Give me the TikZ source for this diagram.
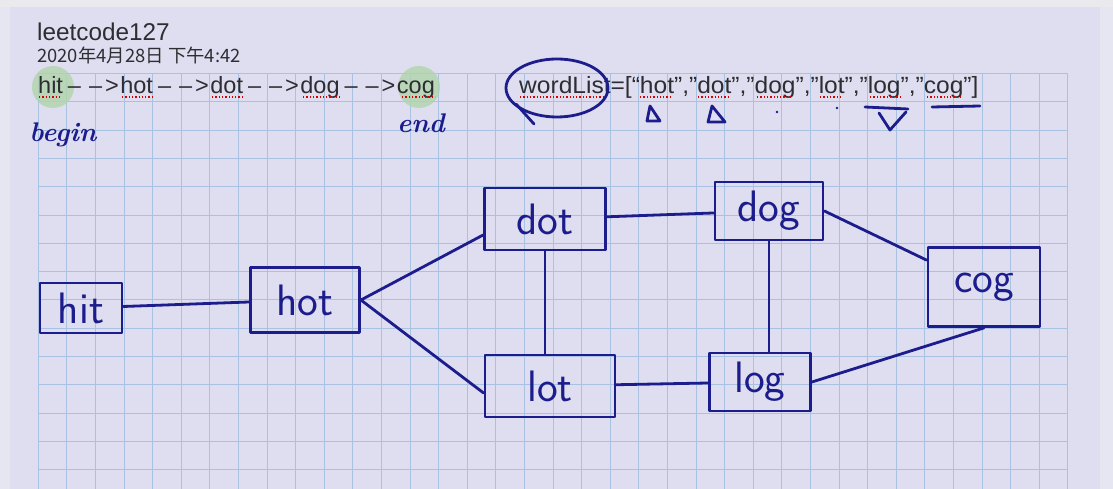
\documentclass[tikz,border=0pt]{standalone}
\usepackage{graphicx}
\usepackage{fontspec}
\newfontfamily\uifont{Liberation Sans}
\newfontfamily\cjk{Noto Sans CJK SC}
\usetikzlibrary{positioning}

\definecolor{paper}{RGB}{222,222,240}
\definecolor{margin}{RGB}{230,230,242}
\definecolor{topbar}{RGB}{234,234,238}
\definecolor{gridblue}{RGB}{170,194,226}
\definecolor{ink}{RGB}{28,28,140}
\definecolor{typedgray}{RGB}{45,45,50}
\definecolor{hilite}{RGB}{176,212,170}

% typed arrow between two words
\newcommand\nextword{\kern5pt–\kern8pt–\kern3pt>\kern1.5pt}

\begin{document}
\begin{tikzpicture}[x=1pt,y=-1pt,
  gridline/.style={draw=gridblue, line width=0.9pt},
  pen/.style={draw=ink, line width=2.8pt, line cap=round, line join=round},
  word/.style={pen, rectangle, inner sep=0pt, text=ink, font=\sffamily\fontsize{44}{44}\selectfont},
  hand/.style={inner sep=0pt, text=ink, font=\bfseries\itshape\fontsize{27}{27}\selectfont},
  typed/.style={anchor=west, inner sep=0pt, text=typedgray, font=\uifont\fontsize{23.5}{26}\selectfont},
  spell/.style={draw=red!85!black, line width=1.3pt, dotted},
]
\useasboundingbox (0,0) rectangle (1113,489);

% paper
\fill[paper] (0,0) rectangle (1113,489);
\fill[margin] (0,0) rectangle (10,489);
\fill[margin] (1100,0) rectangle (1113,489);
\fill[topbar] (0,0) rectangle (1113,7);

% grid
\foreach \i in {0,...,36}
  \draw[gridline] (38.3+28.6*\i,73.3) -- (38.3+28.6*\i,489);
\foreach \j in {0,...,14}
  \draw[gridline] (38.3,73.3+28.33*\j) -- (1068,73.3+28.33*\j);

% highlights
\fill[hilite, opacity=.8] (53,87) circle (21);
\fill[hilite, opacity=.8] (419,87) circle (21);

% header
\node[typed, font=\uifont\fontsize{24.3}{27}\selectfont] (title) at (37,32) {leetcode127};
\node[typed, font=\cjk\fontsize{18.4}{21}\selectfont] (date) at (37,55) {2020年4月28日 下午4:42};

% typed lines
\node[typed] (path) at (38,87) {hit\nextword hot\nextword dot\nextword dog\nextword cog};
\node[typed] (list) at (519,87) {\scalebox{1.045}[1]{wordList=[“hot”,”dot”,”dog”,”lot”,”log”,”cog”]}};

% spell check
\foreach \a/\b in {39/60, 122/152, 212/242, 303/340, 402/435,
                   520/603, 640/670, 698/730, 757/793, 820/843, 870/900, 927/962}
  \draw[spell] (\a,97) -- (\b,97);

% notes
\node[hand] (begin) at (63,135) {begin};
\node[hand] (end) at (421,123) {end};

\begin{scope}[pen]
\draw (557,88) ellipse (51 and 29);
\draw (516,104) -- (534,124);
% marks
\draw (647,121) -- (660,121) -- (650,106) -- cycle;
\draw (708,122) -- (725,122) -- (712,106) -- cycle;
\fill[ink] (777,112) circle (1.3);
\fill[ink] (837,108) circle (1.3);
\draw (865,107) -- (908,109);
\draw (879,113) -- (890,130) -- (906,112);
\draw (932,107) -- (980,106);
\end{scope}

% words
\node[word, minimum width=82, minimum height=50] (hit) at (81,308) {hit};
\node[word, minimum width=109, minimum height=65] (hot) at (305,300) {hot};
\node[word, minimum width=121, minimum height=62] (dot) at (545,219) {dot};
\node[word, minimum width=108, minimum height=58] (dog) at (769,211) {dog};
\node[word, minimum width=130, minimum height=62] (lot) at (550,386) {lot};
\node[word, minimum width=101, minimum height=58] (log) at (760,382) {log};
\node[word, minimum width=112, minimum height=79] (cog) at (984,287) {cog};

% edges
\draw[pen] (hit) -- (hot);
\draw[pen] (hot.east) -- ([yshift=-16pt]dot.west);
\draw[pen] (hot.east) -- ([yshift=-7pt]lot.west);
\draw[pen] (dot.south) -- (dot.south |- lot.north);
\draw[pen] (dot) -- (dog);
\draw[pen] (dog.south) -- (dog.south |- log.north);
\draw[pen] (lot) -- (log);
\draw[pen] (dog.east) -- ([yshift=-14pt]cog.north west);
\draw[pen] (log.east) -- (cog.south);

\end{tikzpicture}
\end{document}
